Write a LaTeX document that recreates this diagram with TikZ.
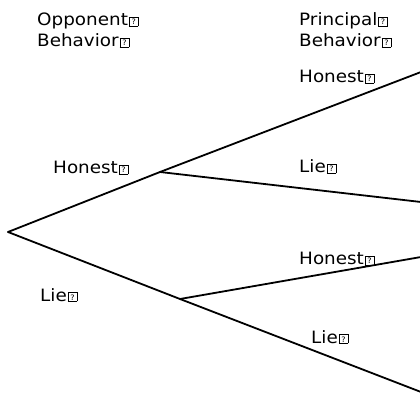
\documentclass[tikz,border=0pt]{standalone}
\usepackage{fontspec}
\setmainfont[FakeStretch=1.08]{DejaVu Sans}
\newcommand\qbx{\kern1pt{\setlength\fboxsep{0pt}\setlength\fboxrule{0.6pt}\fbox{\makebox[8.2pt][c]{\rule{0pt}{8.4pt}\raisebox{1pt}{\fontsize{7.5}{7.5}\selectfont ?}}}}}
\begin{document}
\begin{tikzpicture}[x=1pt,y=-1pt,
  lbl/.style={anchor=base west,inner sep=0pt,font=\fontsize{17}{20}\selectfont},
  branch/.style={line width=1.8pt,line cap=round}]
\useasboundingbox (0,0) rectangle (420,395);
% labels
\node[lbl] (oppA) at (37,26) {Opponent\qbx};
\node[lbl] (oppB) at (37,47) {Behavior\qbx};
\node[lbl] (priA) at (299,26) {Principal\qbx};
\node[lbl] (priB) at (299,47) {Behavior\qbx};
\node[lbl] (hon1) at (299,83) {Honest\qbx};
\node[lbl] (honO) at (53,174) {Honest\qbx};
\node[lbl] (lie1) at (299,173) {Lie\qbx};
\node[lbl] (hon2) at (299,265) {Honest\qbx};
\node[lbl] (lieO) at (40,301) {Lie\qbx};
\node[lbl] (lie2) at (311,343) {Lie\qbx};
% tree
\coordinate (root) at (8,232);
\coordinate (a) at (160,172);
\coordinate (b) at (180,299);
\coordinate (t1) at (421,72);
\coordinate (t2) at (421,202);
\coordinate (t3) at (421,257);
\coordinate (t4) at (421,392);
\draw[branch] (root) -- (a) -- (t1);
\draw[branch] (a) -- (t2);
\draw[branch] (root) -- (b) -- (t4);
\draw[branch] (b) -- (t3);
\end{tikzpicture}
\end{document}
